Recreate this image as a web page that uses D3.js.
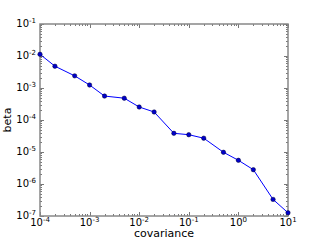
<!DOCTYPE html>
<html>
<head>
<meta charset="utf-8">
<script src="https://cdn.jsdelivr.net/npm/d3@7"></script>
<style>
  body { margin: 0; background: #fff; }
  text { font-family: "DejaVu Sans", sans-serif; }
</style>
</head>
<body>
<div id="wrapper"></div>
<script>
// data
const covariance = [1e-4, 2e-4, 5e-4, 1e-3, 2e-3, 5e-3, 1e-2, 2e-2, 5e-2, 0.1, 0.2, 0.5, 1, 2, 5, 10]
const beta = [1.13e-2, 4.8e-3, 2.4e-3, 1.24e-3, 5.6e-4, 4.8e-4, 2.55e-4, 1.78e-4,
              3.84e-5, 3.47e-5, 2.7e-5, 9.8e-6, 5.5e-6, 2.8e-6, 3.3e-7, 1.26e-7]
const xExponents = [-4, -3, -2, -1, 0, 1]
const yExponents = [-7, -6, -5, -4, -3, -2, -1]

const dimensions = {
    width: 320,
    height: 240,
    margin: { top: 24, right: 32, bottom: 24, left: 40 },
}
dimensions.boundedWidth = dimensions.width - dimensions.margin.left - dimensions.margin.right
dimensions.boundedHeight = dimensions.height - dimensions.margin.top - dimensions.margin.bottom

const svg = d3.select("#wrapper")
    .append("svg")
    .attr("width", dimensions.width)
    .attr("height", dimensions.height)

const bounds = svg.append("g")
    .attr("transform", `translate(${dimensions.margin.left},${dimensions.margin.top})`)

const xScale = d3.scaleLog()
    .domain([1e-4, 1e1])
    .range([0, dimensions.boundedWidth])

const yScale = d3.scaleLog()
    .domain([1e-7, 1e-1])
    .range([dimensions.boundedHeight, 0])

// minor + major ticks, pointing inward, on all four sides
const tickColor = "#555"
const minorX = []
xExponents.slice(0, -1).forEach(e => { for (let k = 2; k < 10; k++) minorX.push(k * Math.pow(10, e)) })
const minorY = []
yExponents.slice(0, -1).forEach(e => { for (let k = 2; k < 10; k++) minorY.push(k * Math.pow(10, e)) })

const tickLayer = bounds.append("g").attr("stroke", tickColor).attr("stroke-width", 0.8)
const H = dimensions.boundedHeight, W = dimensions.boundedWidth

function xTicks(vals, len) {
    vals.forEach(v => {
        const x = Math.round(xScale(v)) + 0.5
        tickLayer.append("line").attr("x1", x).attr("x2", x).attr("y1", H).attr("y2", H - len)
        tickLayer.append("line").attr("x1", x).attr("x2", x).attr("y1", 0).attr("y2", len)
    })
}
function yTicks(vals, len) {
    vals.forEach(v => {
        const y = Math.round(yScale(v)) + 0.5
        tickLayer.append("line").attr("y1", y).attr("y2", y).attr("x1", 0).attr("x2", len)
        tickLayer.append("line").attr("y1", y).attr("y2", y).attr("x1", W).attr("x2", W - len)
    })
}
xTicks(minorX, 2)
xTicks(xExponents.map(e => Math.pow(10, e)), 4)
yTicks(minorY, 2)
yTicks(yExponents.map(e => Math.pow(10, e)), 4)

// frame
bounds.append("rect")
    .attr("x", 0).attr("y", 0)
    .attr("width", W).attr("height", H)
    .attr("fill", "none")
    .attr("stroke", "#888")
    .attr("stroke-width", 1.5)

// tick labels
const xLabels = bounds.append("g")
xExponents.forEach(e => {
    const t = xLabels.append("text")
        .attr("x", xScale(Math.pow(10, e)))
        .attr("y", H + 10)
        .attr("text-anchor", "middle")
        .style("font-size", "10px")
    t.append("tspan").text("10")
    t.append("tspan").attr("dy", -4).style("font-size", "7px").text(e)
})

const yLabels = bounds.append("g")
yExponents.forEach(e => {
    const t = yLabels.append("text")
        .attr("x", -4)
        .attr("y", yScale(Math.pow(10, e)) + 3)
        .attr("text-anchor", "end")
        .style("font-size", "10px")
    t.append("tspan").text("10")
    t.append("tspan").attr("dy", -4).style("font-size", "7px").text(e)
})

// data line and markers
const line = d3.line()
    .x((d, i) => xScale(covariance[i]))
    .y(d => yScale(d))

bounds.append("path")
    .datum(beta)
    .attr("d", line)
    .attr("fill", "none")
    .attr("stroke", "#0000ff")
    .attr("stroke-width", 1)

bounds.selectAll("circle")
    .data(beta)
    .join("circle")
    .attr("cx", (d, i) => xScale(covariance[i]))
    .attr("cy", d => yScale(d))
    .attr("r", 2.2)
    .attr("fill", "#0000cc")
    .attr("stroke", "#000033")
    .attr("stroke-width", 0.5)

// axis labels
svg.append("text")
    .attr("x", dimensions.margin.left + W / 2)
    .attr("y", 237)
    .attr("text-anchor", "middle")
    .style("font-size", "11px")
    .text("covariance")

svg.append("text")
    .attr("transform", `translate(11,${dimensions.margin.top + H / 2}) rotate(-90)`)
    .attr("text-anchor", "middle")
    .style("font-size", "11px")
    .text("beta")
</script>
</body>
</html>
